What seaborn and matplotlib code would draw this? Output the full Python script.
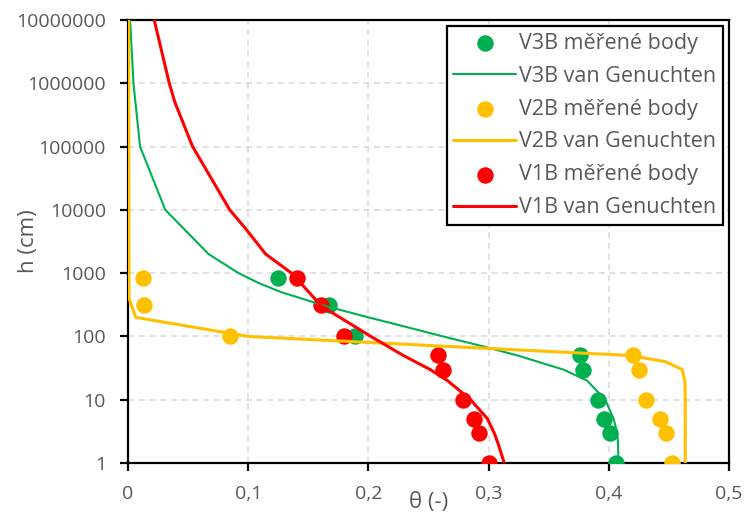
import matplotlib
matplotlib.use("Agg")
import matplotlib.pyplot as plt
import seaborn as sns
from matplotlib.ticker import FixedLocator, FixedFormatter, NullLocator

# merene body - h (cm) a vlhkost theta (-)
h_body = [850, 310, 100, 50, 30, 10, 5, 3, 1]
v3b_body = [0.125, 0.1676, 0.1892, 0.3762, 0.3784, 0.3911, 0.3961, 0.4006, 0.4056]
v2b_body = [0.0122, 0.0135, 0.0846, 0.4202, 0.4249, 0.431, 0.4423, 0.4479, 0.4525]
v1b_body = [0.1402, 0.1602, 0.180, 0.2583, 0.262, 0.2783, 0.2882, 0.2921, 0.3007]

# van Genuchten krivky
v3b_h = [1, 2, 3, 5, 10, 20, 30, 50, 70, 100, 150, 200, 300, 500, 700, 1000, 2000,
         1e4, 1e5, 1e6, 1e7]
v3b_vg = [0.408, 0.4077, 0.407, 0.404, 0.397, 0.382, 0.362, 0.324, 0.295, 0.262, 0.226,
          0.200, 0.165, 0.1275, 0.1085, 0.092, 0.067, 0.031, 0.010, 0.0045, 0.0017]

v2b_h = [1, 10, 20, 30, 40, 50, 100, 200, 400, 1e7]
v2b_vg = [0.4636, 0.4636, 0.4633, 0.461, 0.447, 0.417, 0.0998, 0.0064, 0.0008, 0.0005]

v1b_h = [1, 2, 3, 5, 10, 20, 30, 50, 100, 200, 300, 500, 1000, 2000, 5000,
         1e4, 1e5, 5e5, 1e6, 1e7]
v1b_vg = [0.313, 0.308, 0.3046, 0.299, 0.285, 0.2658, 0.2513, 0.229, 0.202, 0.1762,
          0.161, 0.1505, 0.136, 0.1145, 0.098, 0.0846, 0.0537, 0.039, 0.0343, 0.0218]

y_ticks = [1, 10, 100, 1000, 10000, 100000, 1000000, 10000000]
x_ticks = [0, 0.1, 0.2, 0.3, 0.4, 0.5]
x_labels = ["0", "0,1", "0,2", "0,3", "0,4", "0,5"]

green = "#00B050"
yellow = "#FFC000"
red = "#FF0000"
text_col = "#595959"

sns.set_style("white")
plt.rcParams["font.family"] = ["Open Sans", "DejaVu Sans"]

fig = plt.figure(figsize=(7.47, 5.15), dpi=100)
ax = fig.add_axes([0.1714, 0.1010, 0.8045, 0.8602])

series = [
    ("V3B", h_body, v3b_body, v3b_h, v3b_vg, green, 1.5),
    ("V2B", h_body, v2b_body, v2b_h, v2b_vg, yellow, 2.2),
    ("V1B", h_body, v1b_body, v1b_h, v1b_vg, red, 2.2),
]
for name, hb, tb, hv, tv, col, lw in series:
    sns.scatterplot(x=tb, y=hb, ax=ax, color=col, s=140, linewidth=0,
                    label=f"{name} měřené body", zorder=3)
    sns.lineplot(x=tv, y=hv, ax=ax, color=col, linewidth=lw, sort=False,
                 estimator=None, label=f"{name} van Genuchten", zorder=4)

ax.set_yscale("log")
ax.set_xlim(0, 0.5)
ax.set_ylim(1, 1e7)
ax.yaxis.set_major_locator(FixedLocator(y_ticks))
ax.yaxis.set_major_formatter(FixedFormatter([str(t) for t in y_ticks]))
ax.yaxis.set_minor_locator(NullLocator())
ax.xaxis.set_major_locator(FixedLocator(x_ticks))
ax.xaxis.set_major_formatter(FixedFormatter(x_labels))

ax.grid(True, color="#D9D9D9", linestyle=(0, (4, 3)), linewidth=1.1)
ax.set_axisbelow(True)
for sp in ax.spines.values():
    sp.set_color("black")
    sp.set_linewidth(1.6)
ax.tick_params(axis="both", which="major", direction="out", length=6, width=1.6,
               color="black", labelsize=14, labelcolor=text_col, pad=10,
               left=True, bottom=True)

ax.set_ylabel("h (cm)", fontsize=16, color=text_col)
ax.yaxis.set_label_coords(-0.148, 0.5)
ax.set_xlabel("θ (-)", fontsize=16, color=text_col, va="center")
ax.xaxis.set_label_coords(0.5, -0.09)

leg = ax.legend(loc="upper right", fontsize=15.5, frameon=True, fancybox=False,
                framealpha=1, edgecolor="black", borderaxespad=0.3,
                handlelength=2.9, handletextpad=0.15, labelspacing=0.55,
                borderpad=0.3, markerscale=1.0)
leg.get_frame().set_linewidth(1.6)
for t in leg.get_texts():
    t.set_color(text_col)

fig.savefig("out.png", dpi=100)
